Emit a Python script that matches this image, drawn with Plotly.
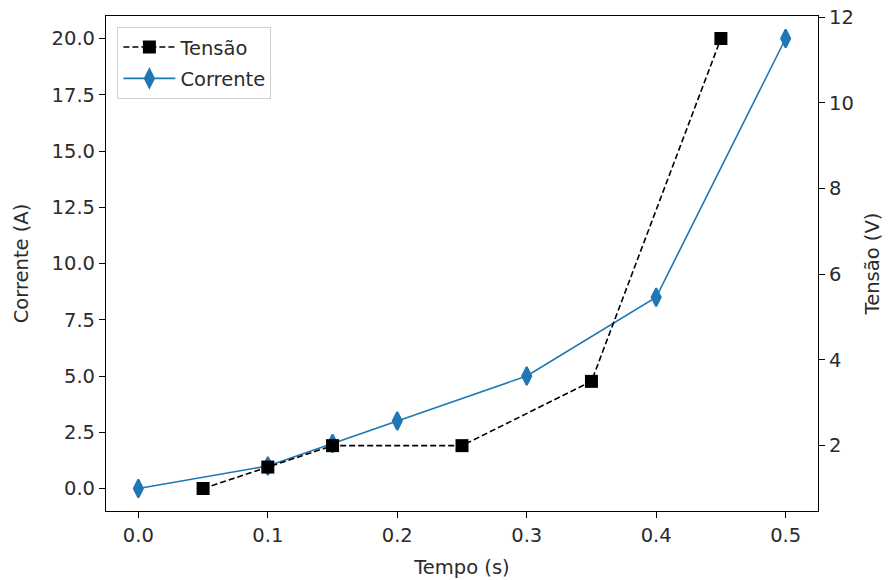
import plotly.graph_objects as go

# Medições: corrente e tensão ao longo do tempo
tempo_corrente = [0.0, 0.1, 0.15, 0.2, 0.3, 0.4, 0.5]
corrente = [0.0, 1.0, 2.0, 3.0, 5.0, 8.5, 20.0]

tempo_tensao = [0.05, 0.1, 0.15, 0.25, 0.35, 0.45]
tensao = [1.0, 1.5, 2.0, 2.0, 3.5, 11.5]

x_ticks = [0.0, 0.1, 0.2, 0.3, 0.4, 0.5]
y_ticks = [0.0, 2.5, 5.0, 7.5, 10.0, 12.5, 15.0, 17.5, 20.0]
y2_ticks = [2, 4, 6, 8, 10, 12]

FONT = "DejaVu Sans"
TXT = "#2b2b2b"
FS = 19.5

fig = go.Figure()

fig.add_trace(go.Scatter(
    x=tempo_tensao, y=tensao, name="Tensão", yaxis="y2",
    legendgroup="tensao",
    mode="lines+markers",
    line=dict(color="black", width=1.6, dash="6px,3px"),
    marker=dict(symbol="square", size=13, color="black"),
))

fig.add_trace(go.Scatter(
    x=tempo_corrente, y=corrente, name="Corrente", yaxis="y",
    legendgroup="corrente",
    mode="lines+markers",
    line=dict(color="#1f77b4", width=1.6),
    marker=dict(symbol="diamond-tall", size=13, color="#1f77b4",
                line=dict(color="#1f77b4", width=2)),
))

axis_common = dict(
    showline=True, linecolor="black", linewidth=1.2,
    ticks="outside", ticklen=6, tickwidth=1.2, tickcolor="black",
    showgrid=False, zeroline=False, automargin=False,
    tickfont=dict(family=FONT, size=FS, color=TXT),
)
title_font = dict(family=FONT, size=FS, color=TXT)

fig.update_layout(
    width=889, height=580,
    margin=dict(l=106, r=71, t=16, b=69),
    paper_bgcolor="white", plot_bgcolor="white",
    font=dict(family=FONT, size=FS, color=TXT),
    xaxis=dict(
        **axis_common, mirror=True,
        range=[-0.025, 0.525], tickvals=x_ticks,
        ticktext=[f"{v:.1f}" for v in x_ticks],
        title=dict(text="Tempo (s)", font=title_font, standoff=14),
    ),
    yaxis=dict(
        **axis_common, mirror=True,
        range=[-1.0, 21.0], tickvals=y_ticks,
        ticktext=[f"{v:.1f}" for v in y_ticks],
        title=dict(text="Corrente (A)", font=title_font, standoff=17),
    ),
    yaxis2=dict(
        **axis_common, overlaying="y", side="right",
        range=[0.475, 12.025], tickvals=y2_ticks,
        title=dict(text="Tensão (V)", font=title_font, standoff=12),
    ),
    legend=dict(
        x=0.016, y=0.978, xanchor="left", yanchor="top",
        bgcolor="rgba(255,255,255,0.8)", bordercolor="#d0d0d0", borderwidth=1,
        font=dict(family=FONT, size=FS, color=TXT),
        itemwidth=52, traceorder="grouped", tracegroupgap=3,
    ),
    showlegend=True,
)

fig.write_html("out.html")
